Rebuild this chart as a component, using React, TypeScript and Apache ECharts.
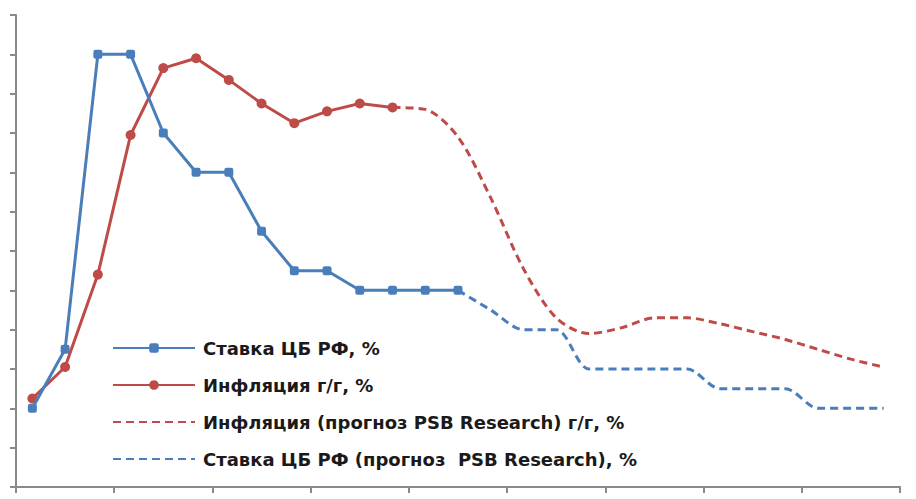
import React, { useEffect, useRef } from "react";
import * as echarts from "echarts";

const categories = [
  "01.22", "02.22", "03.22", "04.22", "05.22", "06.22", "07.22", "08.22", "09.22",
  "10.22", "11.22", "12.22", "01.23", "02.23", "03.23", "04.23", "05.23", "06.23",
  "07.23", "08.23", "09.23", "10.23", "11.23", "12.23", "01.24", "02.24", "03.24",
];

// Ставка ЦБ РФ (факт), индексы 0..13
const keyRateActual = [4, 7, 22, 22, 18, 16, 16, 13, 11, 11, 10, 10, 10, 10];
// Ставка ЦБ РФ (прогноз), индексы 13..26
const keyRateForecast = [10, 9, 8, 8, 6, 6, 6, 6, 5, 5, 5, 4, 4, 4];
const keyRateForecastStart = 13;

// Инфляция г/г (факт), индексы 0..11
const inflationActual = [4.5, 6.1, 10.8, 17.9, 21.3, 21.8, 20.7, 19.5, 18.5, 19.1, 19.5, 19.3];
// Инфляция (прогноз), индексы 11..26
const inflationForecast = [19.3, 19.2, 17.8, 14.7, 11.1, 8.6, 7.8, 8.1, 8.6, 8.6, 8.3, 7.9, 7.5, 7.0, 6.5, 6.1];
const inflationForecastStart = 11;

const seriesNames = [
  "Ставка ЦБ РФ, %",
  "Инфляция г/г, %",
  "Инфляция (прогноз PSB Research) г/г, %",
  "Ставка ЦБ РФ (прогноз  PSB Research), %",
];

function pad(values: number[], start: number, total: number) {
  const out: (number | null)[] = [];
  for (let i = 0; i < total; i++) {
    const j = i - start;
    out.push(j >= 0 && j < values.length ? values[j] : null);
  }
  return out;
}

const BLUE = "#4A7EBB";
const RED = "#BE4B48";

export default function App() {
  const ref = useRef<HTMLDivElement>(null);
  useEffect(() => {
    if (!ref.current) return;
    const chart = echarts.init(ref.current, undefined, { renderer: "svg" });
    const n = categories.length;
    chart.setOption({
      animation: false,
      backgroundColor: "#ffffff",
      grid: { left: 16, right: 16, top: 15, bottom: 12, containLabel: false },
      xAxis: {
        type: "category",
        data: categories,
        boundaryGap: true,
        axisLine: { show: true, lineStyle: { color: "#8a8a8a", width: 2 } },
        axisTick: { show: true, interval: 2, length: 6, lineStyle: { color: "#8a8a8a", width: 2 } },
        axisLabel: { show: false },
        splitLine: { show: false },
      },
      yAxis: {
        type: "value",
        min: 0,
        max: 24,
        interval: 2,
        axisLine: { show: true, lineStyle: { color: "#8a8a8a", width: 2 } },
        axisTick: { show: true, length: 6, lineStyle: { color: "#8a8a8a", width: 2 } },
        axisLabel: { show: false },
        splitLine: { show: false },
      },
      legend: {
        orient: "vertical",
        left: 112,
        top: 339,
        itemWidth: 82,
        itemHeight: 12,
        itemGap: 19,
        padding: 0,
        data: [
          { name: seriesNames[0] },
          { name: seriesNames[1] },
          { name: seriesNames[2], itemStyle: { opacity: 0 } },
          { name: seriesNames[3], itemStyle: { opacity: 0 } },
        ],
        textStyle: {
          fontSize: 18,
          fontWeight: "bold",
          fontFamily: "DejaVu Sans",
          color: "#1a1a1a",
          padding: [0, 0, 0, 3],
        },
      },
      series: [
        {
          name: seriesNames[0],
          type: "line",
          data: pad(keyRateActual, 0, n),
          color: BLUE,
          lineStyle: { width: 3, color: BLUE },
          itemStyle: { color: BLUE },
          symbol: "roundRect",
          symbolSize: 9,
          z: 4,
        },
        {
          name: seriesNames[1],
          type: "line",
          data: pad(inflationActual, 0, n),
          color: RED,
          lineStyle: { width: 3, color: RED },
          itemStyle: { color: RED },
          symbol: "circle",
          symbolSize: 10,
          z: 3,
        },
        {
          name: seriesNames[2],
          type: "line",
          data: pad(inflationForecast, inflationForecastStart, n),
          color: RED,
          smooth: 0.3,
          symbol: "none",
          lineStyle: { width: 3, color: RED, type: [8, 5] },
          z: 2,
        },
        {
          name: seriesNames[3],
          type: "line",
          data: pad(keyRateForecast, keyRateForecastStart, n),
          color: BLUE,
          smooth: 0.3,
          symbol: "none",
          lineStyle: { width: 3, color: BLUE, type: [8, 5] },
          z: 2,
        },
      ],
    });
    return () => chart.dispose();
  }, []);
  return (
    <div
      ref={ref}
      style={{ position: "fixed", left: 0, top: 0, width: 916, height: 499, background: "#fff" }}
    />
  );
}
